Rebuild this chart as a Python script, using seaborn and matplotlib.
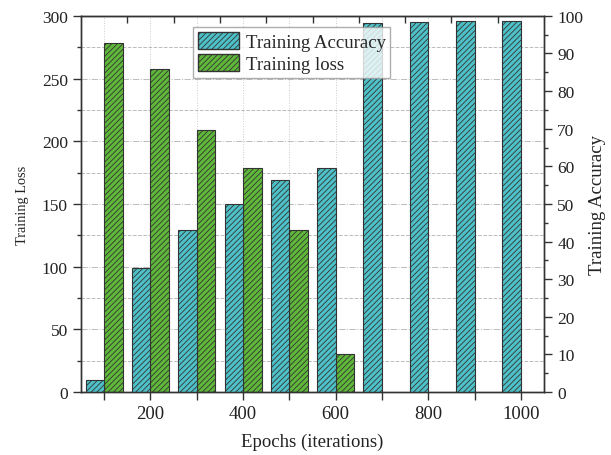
import pandas as pd
import matplotlib
matplotlib.use("Agg")
import matplotlib.pyplot as plt
import seaborn as sns
from matplotlib.ticker import MultipleLocator, FixedLocator
from matplotlib.patches import Patch

# data
epochs = [100, 200, 300, 400, 500, 600, 700, 800, 900, 1000]
accuracy = [3.1, 33.0, 43.0, 50.0, 56.3, 59.5, 98.0, 98.3, 98.6, 98.6]
loss_epochs = [100, 200, 300, 400, 500, 600]
loss = [278, 258, 209, 179, 129, 30]
top_ticks = [150, 250, 350, 450, 550, 650, 750, 850, 950]

acc_color = "#4DC0C8"
loss_color = "#5FB83A"

sns.set_style("ticks")
plt.rcParams["font.family"] = ["Liberation Serif", "DejaVu Serif"]
plt.rcParams["hatch.linewidth"] = 0.6
plt.rcParams["hatch.color"] = "#2a3a3a"

df_acc = pd.DataFrame({"epoch": [e - 20 for e in epochs], "acc": accuracy})
df_loss = pd.DataFrame({"epoch": [e + 20 for e in loss_epochs], "loss": loss})

fig = plt.figure(figsize=(6.11, 4.56), dpi=100)
ax = fig.add_axes([0.1326, 0.138, 0.7578, 0.825])
ax2 = ax.twinx()

sns.barplot(data=df_loss, x="epoch", y="loss", native_scale=True, width=0.4,
            color=loss_color, saturation=1, edgecolor="#333333", linewidth=0.8,
            hatch="//////", ax=ax)
sns.barplot(data=df_acc, x="epoch", y="acc", native_scale=True, width=0.4,
            color=acc_color, saturation=1, edgecolor="#333333", linewidth=0.8,
            hatch="//////", ax=ax2)

ax.set_xlim(50, 1050)
ax.set_ylim(0, 300)
ax2.set_ylim(0, 100)

ax.xaxis.set_major_locator(MultipleLocator(200))
ax.xaxis.set_minor_locator(MultipleLocator(100))
ax.yaxis.set_major_locator(MultipleLocator(50))
ax.yaxis.set_minor_locator(MultipleLocator(25))
ax2.yaxis.set_major_locator(MultipleLocator(10))
ax2.yaxis.set_minor_locator(MultipleLocator(5))

ax.set_axisbelow(True)
ax.grid(which="major", axis="y", linestyle="-.", color="#bbbbbb", linewidth=0.7)
ax.grid(which="minor", axis="y", linestyle="--", color="#bbbbbb", linewidth=0.7)
ax.grid(which="both", axis="x", linestyle=":", color="#cccccc", linewidth=0.7)
ax2.grid(False)

for a in (ax, ax2):
    for s in a.spines.values():
        s.set_visible(True)
        s.set_color("#333333")
        s.set_linewidth(1.0)

ax.tick_params(axis="y", which="major", direction="out", length=6, width=1,
               labelsize=12.5, colors="#333333", labelcolor="#222222")
ax.tick_params(axis="y", which="minor", direction="out", length=3, width=1,
               colors="#333333")
ax.tick_params(axis="x", which="both", direction="out", length=6, width=1,
               labelsize=13.5, pad=3, colors="#333333", labelcolor="#222222")
ax2.tick_params(axis="y", which="major", direction="out", length=6, width=1,
                labelsize=12.5, colors="#333333", labelcolor="#222222")
ax2.tick_params(axis="y", which="minor", direction="out", length=3, width=1,
                colors="#333333")

top = ax.secondary_xaxis("top")
top.xaxis.set_major_locator(FixedLocator(top_ticks))
top.tick_params(axis="x", direction="in", length=5, width=1, labeltop=False,
                colors="#333333")

ax.set_xlabel("Epochs (iterations)", fontsize=13.5, color="#222222", labelpad=8)
ax.set_ylabel("Training Loss", fontsize=10.3, color="#222222", labelpad=9)
ax2.set_ylabel("Training Accuracy", fontsize=13.5, color="#222222", labelpad=4)

handles = [
    Patch(facecolor=acc_color, edgecolor="#333333", hatch="//////", label="Training Accuracy"),
    Patch(facecolor=loss_color, edgecolor="#333333", hatch="//////", label="Training loss"),
]
leg = ax2.legend(handles=handles, loc="upper left", bbox_to_anchor=(0.242, 0.97),
                 borderaxespad=0, fontsize=13.5, frameon=True, fancybox=False,
                 handlelength=2.2, handleheight=1.05, handletextpad=0.35,
                 labelspacing=0.15, borderpad=0.25)
leg.get_frame().set_edgecolor("#999999")
leg.get_frame().set_linewidth(1.0)

fig.savefig("out.png", dpi=100)
